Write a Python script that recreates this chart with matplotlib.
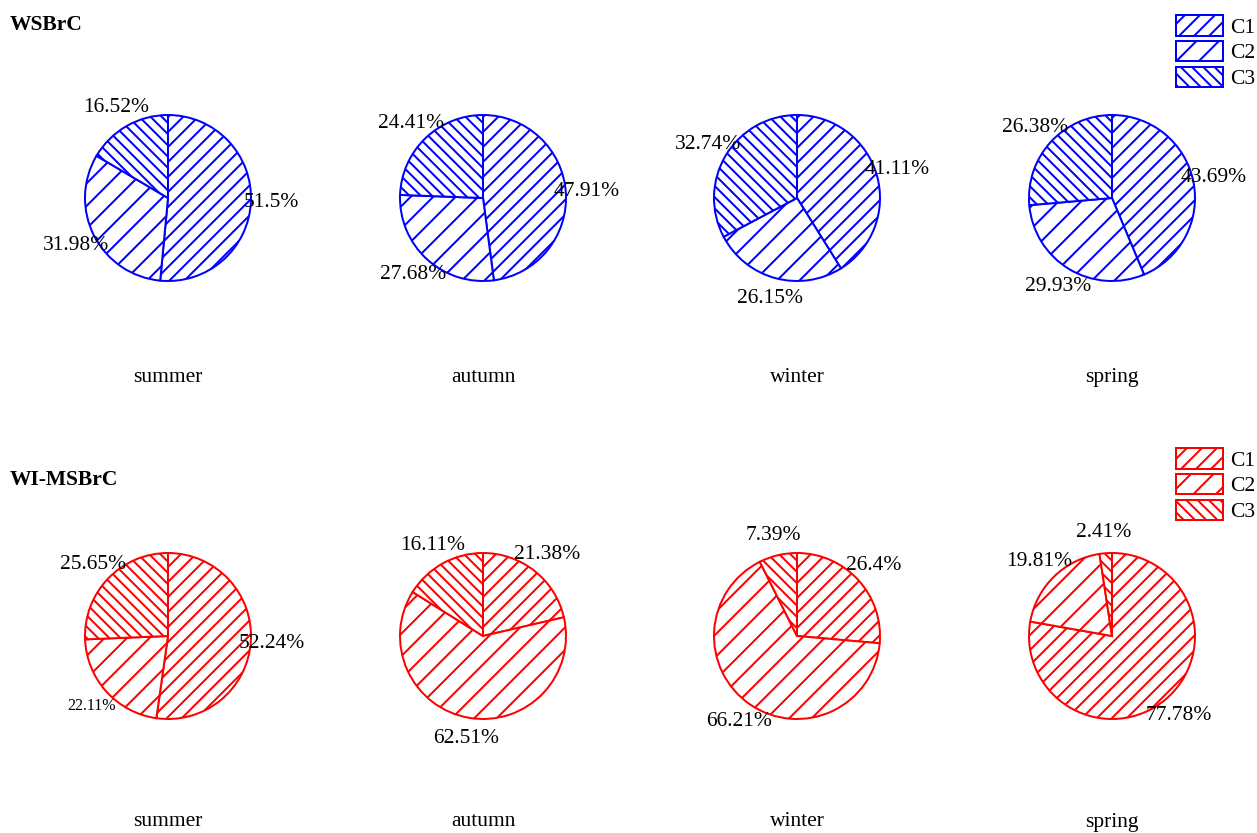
import matplotlib.pyplot as plt

W, H, DPI = 1257, 833, 135


def px(v):
    # pixel size -> points at the output dpi
    return v * 72 / DPI


plt.rcParams['font.family'] = ['Liberation Serif', 'DejaVu Serif']
plt.rcParams['hatch.linewidth'] = px(2.0)

seasons = ["summer", "autumn", "winter", "spring"]
classes = ["C1", "C2", "C3"]
hatches = ["///", "//", "\\\\\\\\"]

# shares of C1, C2, C3 per season (%)
wsbrc = [
    [51.5, 31.98, 16.52],
    [47.91, 27.68, 24.41],
    [41.11, 26.15, 32.74],
    [43.69, 29.93, 26.38],
]
wi_msbrc = [
    [52.24, 22.11, 25.65],
    [21.38, 62.51, 16.11],
    [26.4, 66.21, 7.39],
    [77.78, 19.81, 2.41],
]

FS = px(21.5)
fig = plt.figure(figsize=(W / DPI, H / DPI), dpi=DPI)

pie_x = [168, 483, 797, 1112]
R = 83


def add_pie(cx, cy, vals, color, small=()):
    half = 1.25 * R
    ax = fig.add_axes([(cx - half) / W, 1 - (cy + half) / H, 2 * half / W, 2 * half / H])
    wedges, texts = ax.pie(vals, labels=[f"{v:g}%" for v in vals], startangle=90,
                           counterclock=False, labeldistance=1.25,
                           wedgeprops=dict(facecolor='white', edgecolor=color, linewidth=px(2.0)),
                           textprops=dict(fontsize=FS))
    for w, h in zip(wedges, hatches):
        w.set_hatch(h)
    for i, t in enumerate(texts):
        t.set_ha('center')
        if i in small:
            t.set_fontsize(px(16))
    return wedges


def add_row(title, data, color, cy, label_y, title_y, leg_y, small=None):
    small = small or {}
    for k, (cx, vals) in enumerate(zip(pie_x, data)):
        wedges = add_pie(cx, cy, vals, color, small.get(k, ()))
        fig.text(cx / W, 1 - label_y / H, seasons[k], ha='center', va='center', fontsize=FS)
    fig.text(10 / W, 1 - title_y / H, title, ha='left', va='center', fontsize=FS,
             fontweight='bold')
    fig.legend(wedges, classes, loc='upper right', bbox_to_anchor=(1255 / W, 1 - leg_y / H),
               frameon=False, handlelength=2.2, handleheight=1.1, labelspacing=0.15,
               handletextpad=0.3, borderpad=0, borderaxespad=0, fontsize=FS)


add_row("WSBrC", wsbrc, 'blue', 198, 378, 25, 15)
add_row("WI-MSBrC", wi_msbrc, 'red', 636, 822, 480, 448, small={0: (1,)})

fig.savefig("out.png", dpi=DPI, facecolor='white')
